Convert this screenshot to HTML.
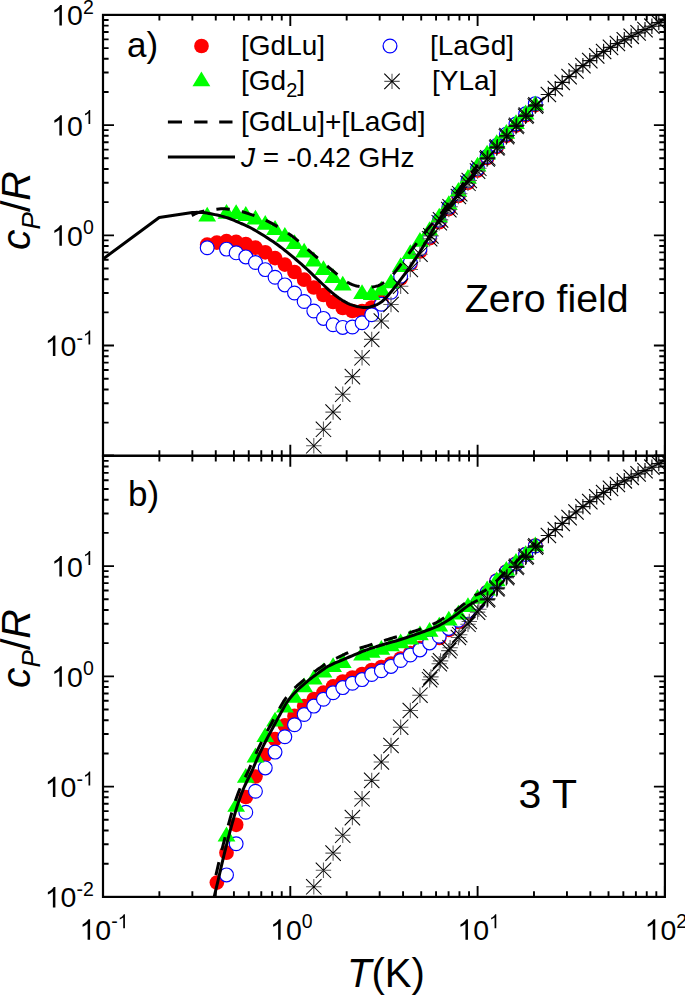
<!DOCTYPE html><html><head><meta charset="utf-8"><style>html,body{margin:0;padding:0;background:#fff;}svg{display:block}</style></head><body>
<svg width="685" height="995" viewBox="0 0 685 995" font-family='"Liberation Sans", sans-serif' fill="#000">
<rect width="685" height="995" fill="#fff"/>
<defs><clipPath id="ca"><rect x="103.0" y="14.9" width="561.9" height="440.9"/></clipPath><clipPath id="cb"><rect x="103.0" y="455.8" width="561.9" height="441.1"/></clipPath></defs>
<g clip-path="url(#ca)">
<g fill="#ff0000"><circle cx="207.2" cy="244.7" r="7.35"/><circle cx="216.85" cy="242.6" r="7.35"/><circle cx="226.5" cy="241.2" r="7.35"/><circle cx="236.15" cy="241.9" r="7.35"/><circle cx="245.8" cy="244" r="7.35"/><circle cx="255.45" cy="247.7" r="7.35"/><circle cx="265.25" cy="252.3" r="7.35"/><circle cx="275.05" cy="258.1" r="7.35"/><circle cx="284.85" cy="264.6" r="7.35"/><circle cx="294.5" cy="272" r="7.35"/><circle cx="304.15" cy="279.7" r="7.35"/><circle cx="313.8" cy="287.5" r="7.35"/><circle cx="323.45" cy="295" r="7.35"/><circle cx="333.1" cy="302" r="7.35"/><circle cx="342.75" cy="308" r="7.35"/><circle cx="352.4" cy="311" r="7.35"/><circle cx="362.05" cy="311" r="7.35"/><circle cx="371.7" cy="307.5" r="7.35"/><circle cx="381.35" cy="301.5" r="7.35"/><circle cx="391" cy="292" r="7.35"/><circle cx="400.65" cy="278.5" r="7.35"/><circle cx="410.3" cy="264.5" r="7.35"/><circle cx="419.95" cy="251.5" r="7.35"/><circle cx="429.6" cy="238.2" r="7.35"/><circle cx="439.25" cy="222.2" r="7.35"/><circle cx="448.82" cy="209.1" r="7.35"/><circle cx="458.4" cy="196" r="7.35"/><circle cx="467.98" cy="182.8" r="7.35"/><circle cx="477.55" cy="170.6" r="7.35"/><circle cx="487.12" cy="158" r="7.35"/><circle cx="496.7" cy="147" r="7.35"/><circle cx="506.35" cy="135.7" r="7.35"/><circle cx="516" cy="125.5" r="7.35"/><circle cx="525.65" cy="115.3" r="7.35"/><circle cx="535.3" cy="105.1" r="7.35"/></g>
<g fill="#fff" stroke="#0000ff" stroke-width="1.15"><circle cx="207.2" cy="247.7" r="6.9"/><circle cx="226.5" cy="249.1" r="6.9"/><circle cx="236.15" cy="252.8" r="6.9"/><circle cx="245.8" cy="256.9" r="6.9"/><circle cx="255.45" cy="262.5" r="6.9"/><circle cx="265.25" cy="269.6" r="6.9"/><circle cx="275.05" cy="277.2" r="6.9"/><circle cx="284.85" cy="284.9" r="6.9"/><circle cx="294.5" cy="293" r="6.9"/><circle cx="304.15" cy="301.5" r="6.9"/><circle cx="313.8" cy="311" r="6.9"/><circle cx="323.45" cy="318.4" r="6.9"/><circle cx="333.1" cy="324.7" r="6.9"/><circle cx="342.75" cy="327.4" r="6.9"/><circle cx="352.4" cy="327" r="6.9"/><circle cx="362.05" cy="322.7" r="6.9"/><circle cx="371.7" cy="314.7" r="6.9"/><circle cx="381.35" cy="304.2" r="6.9"/><circle cx="391" cy="292.3" r="6.9"/><circle cx="400.65" cy="276.3" r="6.9"/><circle cx="410.3" cy="262.5" r="6.9"/><circle cx="419.95" cy="249" r="6.9"/><circle cx="429.6" cy="236.2" r="6.9"/><circle cx="439.25" cy="220.2" r="6.9"/><circle cx="448.82" cy="207.1" r="6.9"/><circle cx="458.4" cy="194" r="6.9"/><circle cx="467.98" cy="180.8" r="6.9"/><circle cx="477.55" cy="168.6" r="6.9"/><circle cx="487.12" cy="156.5" r="6.9"/><circle cx="496.7" cy="145.5" r="6.9"/><circle cx="506.35" cy="134.2" r="6.9"/><circle cx="516" cy="124" r="6.9"/><circle cx="525.65" cy="113.8" r="6.9"/><circle cx="535.3" cy="103.6" r="6.9"/></g>
<path fill="#00ff00" d="M207.2 206.8L216.1 221.6L198.3 221.6ZM226.5 204L235.4 218.8L217.6 218.8ZM236.15 204.3L245.05 219.1L227.25 219.1ZM245.8 206.1L254.7 220.9L236.9 220.9ZM255.45 209.8L264.35 224.6L246.55 224.6ZM265.25 214.9L274.15 229.7L256.35 229.7ZM275.05 220.1L283.95 234.9L266.15 234.9ZM284.85 226.9L293.75 241.7L275.95 241.7ZM294.5 234.2L303.4 249L285.6 249ZM304.15 242.8L313.05 257.6L295.25 257.6ZM313.8 251.6L322.7 266.4L304.9 266.4ZM323.45 260.3L332.35 275.1L314.55 275.1ZM333.1 268.2L342 283L324.2 283ZM342.75 275.8L351.65 290.6L333.85 290.6ZM362.05 284.3L370.95 299.1L353.15 299.1ZM371.7 285.1L380.6 299.9L362.8 299.9ZM381.35 280.8L390.25 295.6L372.45 295.6ZM391 273.4L399.9 288.2L382.1 288.2ZM400.65 257.3L409.55 272.1L391.75 272.1ZM410.3 244.3L419.2 259.1L401.4 259.1ZM419.95 232L428.85 246.8L411.05 246.8ZM429.6 221.3L438.5 236.1L420.7 236.1ZM439.25 207.8L448.15 222.6L430.35 222.6ZM448.82 195.2L457.72 210L439.93 210ZM458.4 182.1L467.3 196.9L449.5 196.9ZM467.98 168.9L476.88 183.7L459.08 183.7ZM477.55 156.7L486.45 171.5L468.65 171.5ZM487.12 144.8L496.02 159.6L478.23 159.6ZM496.7 134.3L505.6 149.1L487.8 149.1ZM506.35 124L515.25 138.8L497.45 138.8ZM516 114.3L524.9 129.1L507.1 129.1ZM525.65 104.6L534.55 119.4L516.75 119.4ZM535.3 95.4L544.2 110.2L526.4 110.2Z"/>
<path fill="none" stroke="#606060" stroke-width="1.1" d="M306.1 445.8H321.5M313.8 438.1V453.5M315.75 429.3H331.15M323.45 421.6V437M325.4 412.1H340.8M333.1 404.4V419.8M335.05 394.3H350.45M342.75 386.6V402M344.7 376.6H360.1M352.4 368.9V384.3M354.35 357.8H369.75M362.05 350.1V365.5M364 339.4H379.4M371.7 331.7V347.1M373.65 321H389.05M381.35 313.3V328.7M383.3 304.5H398.7M391 296.8V312.2M392.95 286.2H408.35M400.65 278.5V293.9M402.6 269.5H418M410.3 261.8V277.2M412.25 254.2H427.65M419.95 246.5V261.9M421.9 238.7H437.3M429.6 231V246.4M431.55 222.7H446.95M439.25 215V230.4M441.12 209.6H456.52M448.82 201.9V217.3M450.7 196.5H466.1M458.4 188.8V204.2M460.28 183.3H475.68M467.98 175.6V191M469.85 171.1H485.25M477.55 163.4V178.8M423.2 235.9H438.6M430.9 228.2V243.6M432.85 219.9H448.25M440.55 212.2V227.6M442.43 206.8H457.82M450.12 199.1V214.5M452 193.7H467.4M459.7 186V201.4M461.58 180.5H476.98M469.28 172.8V188.2M471.15 168.3H486.55M478.85 160.6V176"/>
<path fill="none" stroke="#111" stroke-width="1.15" d="M479.43 159H494.82M487.12 151.3V166.7M489 148H504.4M496.7 140.3V155.7M498.65 136.7H514.05M506.35 129V144.4M508.3 126.5H523.7M516 118.8V134.2M517.95 116.3H533.35M525.65 108.6V124M527.6 106.1H543M535.3 98.4V113.8M540.7 94.5H556.1M548.4 86.8V102.2M547.6 88.6H563M555.3 80.9V96.3M554.5 82.4H569.9M562.2 74.7V90.1M561.4 76.6H576.8M569.1 68.9V84.3M568.3 71H583.7M576 63.3V78.7M575.2 65.6H590.6M582.9 57.9V73.3M582.1 60.6H597.5M589.8 52.9V68.3M589 55.9H604.4M596.7 48.2V63.6M595.9 51.5H611.3M603.6 43.8V59.2M602.8 47.4H618.2M610.5 39.7V55.1M609.7 43.5H625.1M617.4 35.8V51.2M616.6 39.8H632M624.3 32.1V47.5M623.5 36.3H638.9M631.2 28.6V44M630.4 32.9H645.8M638.1 25.2V40.6M637.3 29.6H652.7M645 21.9V37.3M644.2 26.2H659.6M651.9 18.5V33.9M651.1 22.6H666.5M658.8 14.9V30.3M658 19H673.4M665.7 11.3V26.7M480.12 157.8H495.52M487.82 150.1V165.5M489.7 146.8H505.1M497.4 139.1V154.5M499.35 135.5H514.75M507.05 127.8V143.2M509 125.3H524.4M516.7 117.6V133M518.65 115.1H534.05M526.35 107.4V122.8M528.3 104.9H543.7M536 97.2V112.6"/>
<path fill="none" stroke="#000" stroke-width="1.05" d="M306.1 438.1L321.5 453.5M306.1 453.5L321.5 438.1M315.75 421.6L331.15 437M315.75 437L331.15 421.6M325.4 404.4L340.8 419.8M325.4 419.8L340.8 404.4M335.05 386.6L350.45 402M335.05 402L350.45 386.6M344.7 368.9L360.1 384.3M344.7 384.3L360.1 368.9M354.35 350.1L369.75 365.5M354.35 365.5L369.75 350.1M364 331.7L379.4 347.1M364 347.1L379.4 331.7M373.65 313.3L389.05 328.7M373.65 328.7L389.05 313.3M383.3 296.8L398.7 312.2M383.3 312.2L398.7 296.8M392.95 278.5L408.35 293.9M392.95 293.9L408.35 278.5M402.6 261.8L418 277.2M402.6 277.2L418 261.8M412.25 246.5L427.65 261.9M412.25 261.9L427.65 246.5M421.9 231L437.3 246.4M421.9 246.4L437.3 231M431.55 215L446.95 230.4M431.55 230.4L446.95 215M441.12 201.9L456.52 217.3M441.12 217.3L456.52 201.9M450.7 188.8L466.1 204.2M450.7 204.2L466.1 188.8M460.28 175.6L475.68 191M460.28 191L475.68 175.6M469.85 163.4L485.25 178.8M469.85 178.8L485.25 163.4M479.43 151.3L494.82 166.7M479.43 166.7L494.82 151.3M489 140.3L504.4 155.7M489 155.7L504.4 140.3M498.65 129L514.05 144.4M498.65 144.4L514.05 129M508.3 118.8L523.7 134.2M508.3 134.2L523.7 118.8M517.95 108.6L533.35 124M517.95 124L533.35 108.6M527.6 98.4L543 113.8M527.6 113.8L543 98.4M423.2 228.2L438.6 243.6M423.2 243.6L438.6 228.2M432.85 212.2L448.25 227.6M432.85 227.6L448.25 212.2M442.43 199.1L457.82 214.5M442.43 214.5L457.82 199.1M452 186L467.4 201.4M452 201.4L467.4 186M461.58 172.8L476.98 188.2M461.58 188.2L476.98 172.8M471.15 160.6L486.55 176M471.15 176L486.55 160.6M480.12 150.1L495.52 165.5M480.12 165.5L495.52 150.1M489.7 139.1L505.1 154.5M489.7 154.5L505.1 139.1M499.35 127.8L514.75 143.2M499.35 143.2L514.75 127.8M509 117.6L524.4 133M509 133L524.4 117.6M518.65 107.4L534.05 122.8M518.65 122.8L534.05 107.4M528.3 97.2L543.7 112.6M528.3 112.6L543.7 97.2"/>
<path fill="none" stroke="#000" stroke-width="1.15" d="M540.7 86.8L556.1 102.2M547.6 80.9L563 96.3M554.5 74.7L569.9 90.1M561.4 68.9L576.8 84.3M568.3 63.3L583.7 78.7M575.2 57.9L590.6 73.3M582.1 52.9L597.5 68.3M589 48.2L604.4 63.6M595.9 43.8L611.3 59.2M602.8 39.7L618.2 55.1M609.7 35.8L625.1 51.2M616.6 32.1L632 47.5M623.5 28.6L638.9 44M630.4 25.2L645.8 40.6M637.3 21.9L652.7 37.3M644.2 18.5L659.6 33.9M651.1 14.9L666.5 30.3M658 11.3L673.4 26.7"/>
<path fill="none" stroke="#000" stroke-opacity="0.55" stroke-width="1.15" d="M540.7 102.2L556.1 86.8M547.6 96.3L563 80.9M554.5 90.1L569.9 74.7M561.4 84.3L576.8 68.9M568.3 78.7L583.7 63.3M575.2 73.3L590.6 57.9M582.1 68.3L597.5 52.9M589 63.6L604.4 48.2M595.9 59.2L611.3 43.8M602.8 55.1L618.2 39.7M609.7 51.2L625.1 35.8M616.6 47.5L632 32.1M623.5 44L638.9 28.6M630.4 40.6L645.8 25.2M637.3 37.3L652.7 21.9M644.2 33.9L659.6 18.5M651.1 30.3L666.5 14.9M658 26.7L673.4 11.3"/>
<polyline fill="none" stroke="#000" stroke-width="3" stroke-dasharray="13.4 12.2" stroke-dashoffset="0" stroke-linejoin="round" points="191.8,215.6 192.59,215.2 193.61,214.64 194.85,213.97 196.33,213.27 198.04,212.6 200,212 202.36,211.45 205.15,210.9 208.18,210.38 211.25,209.9 214.19,209.5 216.8,209.2 219,209 220.93,208.87 222.73,208.82 224.51,208.85 226.43,208.98 228.6,209.2 231,209.5 233.5,209.86 236.13,210.31 238.91,210.88 241.86,211.6 245,212.5 248.39,213.58 252.01,214.8 255.81,216.18 259.71,217.71 263.63,219.38 267.5,221.2 271.39,223.19 275.37,225.37 279.37,227.69 283.33,230.12 287.2,232.64 290.9,235.2 294.42,237.86 297.81,240.66 301.09,243.54 304.31,246.44 307.51,249.31 310.7,252.1 313.89,254.81 317.04,257.5 320.16,260.16 323.25,262.78 326.33,265.36 329.4,267.9 332.51,270.5 335.66,273.17 338.79,275.81 341.85,278.29 344.77,280.49 347.5,282.3 349.98,283.66 352.27,284.67 354.41,285.4 356.49,285.93 358.56,286.34 360.7,286.7 362.94,286.99 365.23,287.15 367.51,287.19 369.74,287.11 371.86,286.95 373.8,286.7 375.53,286.39 377.07,286.02 378.49,285.55 379.88,284.96 381.29,284.22 382.8,283.3 384.43,282.16 386.14,280.81 387.87,279.31 389.59,277.71 391.24,276.09 392.8,274.5 394.24,272.92 395.59,271.31 396.88,269.68 398.14,268.01 399.41,266.31 400.7,264.6 401.98,262.89 403.22,261.2 404.46,259.48 405.74,257.69 407.11,255.81 408.6,253.8 410.26,251.59 412.06,249.21 413.94,246.74 415.84,244.24 417.72,241.8 419.5,239.5 421.18,237.34 422.81,235.25 424.41,233.22 425.99,231.24 427.58,229.27 429.2,227.3 430.85,225.36 432.52,223.46 434.2,221.57 435.88,219.69 437.55,217.77 439.2,215.8 440.84,213.77 442.46,211.7 444.07,209.6 445.69,207.48 447.29,205.34 448.9,203.2 450.5,201.05 452.1,198.87 453.7,196.68 455.3,194.49 456.9,192.29 458.5,190.1 460.11,187.9 461.73,185.69 463.35,183.48 464.97,181.29 466.59,179.12 468.2,177 469.92,174.8 471.76,172.47 473.61,170.18 475.31,168.07 476.76,166.29 477.8,165"/>
<polyline fill="none" stroke="#000" stroke-width="3" stroke-linejoin="round" points="103,259 159.2,217.5 192.3,212.4 193.45,212.4 195.03,212.39 196.9,212.37 198.94,212.39 201.02,212.46 203,212.6 204.91,212.81 206.87,213.08 208.86,213.4 210.88,213.76 212.93,214.16 215,214.6 217.12,215.07 219.3,215.57 221.5,216.11 223.7,216.7 225.88,217.32 228,218 230.08,218.75 232.15,219.57 234.19,220.43 236.19,221.31 238.13,222.18 240,223 241.76,223.75 243.41,224.44 245,225.12 246.59,225.83 248.24,226.61 250,227.5 251.87,228.5 253.81,229.59 255.81,230.75 257.85,231.96 259.92,233.22 262,234.5 264.14,235.84 266.37,237.26 268.62,238.72 270.85,240.19 273,241.62 275,243 276.83,244.29 278.52,245.52 280.12,246.72 281.7,247.93 283.31,249.17 285,250.5 286.77,251.9 288.58,253.35 290.42,254.84 292.27,256.37 294.14,257.92 296,259.5 297.83,261.06 299.62,262.61 301.43,264.19 303.28,265.83 305.22,267.59 307.3,269.5 309.54,271.62 311.92,273.91 314.39,276.32 316.91,278.77 319.43,281.19 321.9,283.5 324.35,285.76 326.81,288.03 329.27,290.27 331.71,292.43 334.13,294.46 336.5,296.3 338.81,297.97 341.08,299.5 343.31,300.91 345.53,302.17 347.76,303.31 350,304.3 352.31,305.15 354.68,305.86 357.05,306.44 359.37,306.88 361.57,307.2 363.6,307.4 365.43,307.46 367.09,307.38 368.64,307.17 370.13,306.86 371.6,306.46 373.1,306 374.61,305.49 376.09,304.93 377.56,304.29 379.02,303.52 380.49,302.6 382,301.5 383.5,300.22 384.99,298.8 386.48,297.22 388.03,295.49 389.65,293.58 391.4,291.5 393.34,289.13 395.45,286.44 397.64,283.59 399.83,280.71 401.91,277.93 403.8,275.4 405.48,273.12 407.02,270.98 408.46,268.95 409.83,266.99 411.16,265.05 412.5,263.1 413.8,261.21 415.03,259.41 416.22,257.64 417.42,255.83 418.67,253.9 420,251.8 421.43,249.49 422.93,247.03 424.47,244.46 426.04,241.81 427.62,239.15 429.2,236.5 430.78,233.82 432.37,231.05 433.97,228.26 435.58,225.5 437.19,222.83 438.8,220.3 440.41,217.94 442.03,215.7 443.65,213.56 445.27,211.45 446.89,209.35 448.5,207.2 450.1,205.02 451.7,202.84 453.3,200.66 454.9,198.47 456.5,196.29 458.1,194.1 459.71,191.88 461.31,189.64 462.93,187.39 464.54,185.17 466.16,183 467.8,180.9 469.57,178.76 471.48,176.54 473.41,174.38 475.2,172.39 476.71,170.72 477.8,169.5"/>
<polyline fill="none" stroke="#000" stroke-width="1.4" stroke-linejoin="round" points="535.3,106.1 536.8,104.77 538.93,102.88 541.42,100.67 544.01,98.37 546.42,96.24 548.4,94.5 549.91,93.19 551.16,92.12 552.24,91.21 553.23,90.38 554.22,89.53 555.3,88.6 556.45,87.58 557.6,86.54 558.75,85.49 559.9,84.45 561.05,83.41 562.2,82.4 563.35,81.41 564.5,80.43 565.65,79.46 566.8,78.5 567.95,77.55 569.1,76.6 570.25,75.65 571.4,74.71 572.55,73.78 573.7,72.84 574.85,71.92 576,71 577.15,70.08 578.3,69.17 579.45,68.26 580.6,67.36 581.75,66.47 582.9,65.6 584.05,64.74 585.2,63.89 586.35,63.06 587.5,62.23 588.65,61.41 589.8,60.6 590.95,59.8 592.1,59 593.25,58.21 594.4,57.43 595.55,56.66 596.7,55.9 597.85,55.15 599,54.4 600.15,53.66 601.3,52.93 602.45,52.21 603.6,51.5 604.75,50.8 605.9,50.1 607.05,49.42 608.2,48.74 609.35,48.07 610.5,47.4 611.65,46.74 612.8,46.08 613.95,45.42 615.1,44.78 616.25,44.14 617.4,43.5 618.55,42.87 619.7,42.24 620.85,41.62 622,41.01 623.15,40.4 624.3,39.8 625.45,39.2 626.6,38.61 627.75,38.03 628.9,37.45 630.05,36.88 631.2,36.3 632.35,35.73 633.5,35.16 634.65,34.59 635.8,34.02 636.95,33.46 638.1,32.9 639.25,32.35 640.4,31.8 641.55,31.25 642.7,30.7 643.85,30.15 645,29.6 646.15,29.04 647.3,28.48 648.45,27.92 649.6,27.35 650.75,26.78 651.9,26.2 653.05,25.61 654.2,25.01 655.35,24.41 656.5,23.81 657.65,23.2 658.8,22.6 660.03,21.96 661.36,21.27 662.68,20.58 663.91,19.93 664.95,19.39 665.7,19"/>
</g>
<g clip-path="url(#cb)">
<g fill="#ff0000"><circle cx="216.85" cy="882.6" r="7.35"/><circle cx="226.5" cy="852.7" r="7.35"/><circle cx="236.15" cy="824.8" r="7.35"/><circle cx="245.8" cy="797" r="7.35"/><circle cx="255.45" cy="776.5" r="7.35"/><circle cx="265.25" cy="755" r="7.35"/><circle cx="275.05" cy="739" r="7.35"/><circle cx="284.85" cy="725.3" r="7.35"/><circle cx="294.5" cy="715.9" r="7.35"/><circle cx="304.15" cy="706.1" r="7.35"/><circle cx="313.8" cy="699.1" r="7.35"/><circle cx="323.45" cy="692.7" r="7.35"/><circle cx="333.1" cy="686.4" r="7.35"/><circle cx="342.75" cy="681.5" r="7.35"/><circle cx="352.4" cy="677.5" r="7.35"/><circle cx="362.05" cy="674" r="7.35"/><circle cx="371.7" cy="670" r="7.35"/><circle cx="381.35" cy="667" r="7.35"/><circle cx="391" cy="663.5" r="7.35"/><circle cx="400.65" cy="658.5" r="7.35"/><circle cx="410.3" cy="653" r="7.35"/><circle cx="419.95" cy="648" r="7.35"/><circle cx="429.6" cy="641.5" r="7.35"/><circle cx="439.25" cy="638" r="7.35"/><circle cx="448.82" cy="630" r="7.35"/><circle cx="458.4" cy="622" r="7.35"/><circle cx="467.98" cy="612.5" r="7.35"/><circle cx="477.55" cy="603" r="7.35"/><circle cx="487.12" cy="592" r="7.35"/><circle cx="496.7" cy="580.5" r="7.35"/><circle cx="506.35" cy="571.5" r="7.35"/><circle cx="516" cy="563.5" r="7.35"/><circle cx="525.65" cy="554" r="7.35"/><circle cx="535.3" cy="545.5" r="7.35"/></g>
<g fill="#fff" stroke="#0000ff" stroke-width="1.15"><circle cx="226.5" cy="874.9" r="6.9"/><circle cx="236.15" cy="843.8" r="6.9"/><circle cx="245.8" cy="812.3" r="6.9"/><circle cx="255.45" cy="791.3" r="6.9"/><circle cx="265.25" cy="767.9" r="6.9"/><circle cx="275.05" cy="752.1" r="6.9"/><circle cx="284.85" cy="736.7" r="6.9"/><circle cx="294.5" cy="724.8" r="6.9"/><circle cx="304.15" cy="714.5" r="6.9"/><circle cx="313.8" cy="706.1" r="6.9"/><circle cx="323.45" cy="699.2" r="6.9"/><circle cx="333.1" cy="692.7" r="6.9"/><circle cx="342.75" cy="687.6" r="6.9"/><circle cx="352.4" cy="683.2" r="6.9"/><circle cx="362.05" cy="679.6" r="6.9"/><circle cx="371.7" cy="674.5" r="6.9"/><circle cx="381.35" cy="670.8" r="6.9"/><circle cx="391" cy="666.4" r="6.9"/><circle cx="400.65" cy="660.5" r="6.9"/><circle cx="410.3" cy="655" r="6.9"/><circle cx="419.95" cy="649.9" r="6.9"/><circle cx="429.6" cy="642.9" r="6.9"/><circle cx="439.25" cy="636.3" r="6.9"/><circle cx="448.82" cy="628.4" r="6.9"/><circle cx="458.4" cy="620.3" r="6.9"/><circle cx="467.98" cy="611" r="6.9"/><circle cx="477.55" cy="603" r="6.9"/><circle cx="487.12" cy="592.5" r="6.9"/><circle cx="496.7" cy="581" r="6.9"/><circle cx="506.35" cy="572" r="6.9"/><circle cx="516" cy="564" r="6.9"/><circle cx="525.65" cy="554.5" r="6.9"/><circle cx="535.3" cy="546" r="6.9"/></g>
<path fill="#00ff00" d="M226.5 826.6L235.4 841.4L217.6 841.4ZM236.15 796.9L245.05 811.7L227.25 811.7ZM245.8 768L254.7 782.8L236.9 782.8ZM255.45 747.6L264.35 762.4L246.55 762.4ZM265.25 727.3L274.15 742.1L256.35 742.1ZM275.05 711.8L283.95 726.6L266.15 726.6ZM284.85 697.7L293.75 712.5L275.95 712.5ZM294.5 687.9L303.4 702.7L285.6 702.7ZM304.15 677.4L313.05 692.2L295.25 692.2ZM313.8 669.6L322.7 684.4L304.9 684.4ZM323.45 662.6L332.35 677.4L314.55 677.4ZM333.1 657.2L342 672L324.2 672ZM342.75 653.1L351.65 667.9L333.85 667.9ZM362.05 645.6L370.95 660.4L353.15 660.4ZM371.7 643L380.6 657.8L362.8 657.8ZM381.35 640L390.25 654.8L372.45 654.8ZM391 636.5L399.9 651.3L382.1 651.3ZM400.65 633.4L409.55 648.2L391.75 648.2ZM410.3 629.6L419.2 644.4L401.4 644.4ZM419.95 625.5L428.85 640.3L411.05 640.3ZM429.6 622L438.5 636.8L420.7 636.8ZM439.25 616.7L448.15 631.5L430.35 631.5ZM448.82 610.8L457.72 625.6L439.93 625.6ZM458.4 604.7L467.3 619.5L449.5 619.5ZM467.98 597.2L476.88 612L459.08 612ZM477.55 588.9L486.45 603.7L468.65 603.7ZM487.12 580.6L496.02 595.4L478.23 595.4ZM496.7 571.4L505.6 586.2L487.8 586.2ZM506.35 561L515.25 575.8L497.45 575.8ZM516 553.1L524.9 567.9L507.1 567.9ZM525.65 545.2L534.55 560L516.75 560ZM535.3 536.5L544.2 551.3L526.4 551.3Z"/>
<path fill="none" stroke="#606060" stroke-width="1.1" d="M306.1 886.8H321.5M313.8 879.1V894.5M315.75 870.3H331.15M323.45 862.6V878M325.4 853.1H340.8M333.1 845.4V860.8M335.05 835.3H350.45M342.75 827.6V843M344.7 817.6H360.1M352.4 809.9V825.3M354.35 798.8H369.75M362.05 791.1V806.5M364 780.4H379.4M371.7 772.7V788.1M373.65 762H389.05M381.35 754.3V769.7M383.3 745.5H398.7M391 737.8V753.2M392.95 727.2H408.35M400.65 719.5V734.9M402.6 710.5H418M410.3 702.8V718.2M412.25 695.2H427.65M419.95 687.5V702.9M421.9 679.7H437.3M429.6 672V687.4M431.55 663.7H446.95M439.25 656V671.4M441.12 650.6H456.52M448.82 642.9V658.3M450.7 637.5H466.1M458.4 629.8V645.2M460.28 624.3H475.68M467.98 616.6V632M469.85 612.1H485.25M477.55 604.4V619.8M423.2 676.9H438.6M430.9 669.2V684.6M432.85 660.9H448.25M440.55 653.2V668.6M442.43 647.8H457.82M450.12 640.1V655.5M452 634.7H467.4M459.7 627V642.4M461.58 621.5H476.98M469.28 613.8V629.2M471.15 609.3H486.55M478.85 601.6V617"/>
<path fill="none" stroke="#111" stroke-width="1.15" d="M479.43 600H494.82M487.12 592.3V607.7M489 589H504.4M496.7 581.3V596.7M498.65 577.7H514.05M506.35 570V585.4M508.3 567.5H523.7M516 559.8V575.2M517.95 557.3H533.35M525.65 549.6V565M527.6 547.1H543M535.3 539.4V554.8M540.7 535.5H556.1M548.4 527.8V543.2M547.6 529.6H563M555.3 521.9V537.3M554.5 523.4H569.9M562.2 515.7V531.1M561.4 517.6H576.8M569.1 509.9V525.3M568.3 512H583.7M576 504.3V519.7M575.2 506.6H590.6M582.9 498.9V514.3M582.1 501.6H597.5M589.8 493.9V509.3M589 496.9H604.4M596.7 489.2V504.6M595.9 492.5H611.3M603.6 484.8V500.2M602.8 488.4H618.2M610.5 480.7V496.1M609.7 484.5H625.1M617.4 476.8V492.2M616.6 480.8H632M624.3 473.1V488.5M623.5 477.3H638.9M631.2 469.6V485M630.4 473.9H645.8M638.1 466.2V481.6M637.3 470.6H652.7M645 462.9V478.3M644.2 467.2H659.6M651.9 459.5V474.9M651.1 463.6H666.5M658.8 455.9V471.3M658 460H673.4M665.7 452.3V467.7M480.12 598.8H495.52M487.82 591.1V606.5M489.7 587.8H505.1M497.4 580.1V595.5M499.35 576.5H514.75M507.05 568.8V584.2M509 566.3H524.4M516.7 558.6V574M518.65 556.1H534.05M526.35 548.4V563.8M528.3 545.9H543.7M536 538.2V553.6"/>
<path fill="none" stroke="#000" stroke-width="1.05" d="M306.1 879.1L321.5 894.5M306.1 894.5L321.5 879.1M315.75 862.6L331.15 878M315.75 878L331.15 862.6M325.4 845.4L340.8 860.8M325.4 860.8L340.8 845.4M335.05 827.6L350.45 843M335.05 843L350.45 827.6M344.7 809.9L360.1 825.3M344.7 825.3L360.1 809.9M354.35 791.1L369.75 806.5M354.35 806.5L369.75 791.1M364 772.7L379.4 788.1M364 788.1L379.4 772.7M373.65 754.3L389.05 769.7M373.65 769.7L389.05 754.3M383.3 737.8L398.7 753.2M383.3 753.2L398.7 737.8M392.95 719.5L408.35 734.9M392.95 734.9L408.35 719.5M402.6 702.8L418 718.2M402.6 718.2L418 702.8M412.25 687.5L427.65 702.9M412.25 702.9L427.65 687.5M421.9 672L437.3 687.4M421.9 687.4L437.3 672M431.55 656L446.95 671.4M431.55 671.4L446.95 656M441.12 642.9L456.52 658.3M441.12 658.3L456.52 642.9M450.7 629.8L466.1 645.2M450.7 645.2L466.1 629.8M460.28 616.6L475.68 632M460.28 632L475.68 616.6M469.85 604.4L485.25 619.8M469.85 619.8L485.25 604.4M479.43 592.3L494.82 607.7M479.43 607.7L494.82 592.3M489 581.3L504.4 596.7M489 596.7L504.4 581.3M498.65 570L514.05 585.4M498.65 585.4L514.05 570M508.3 559.8L523.7 575.2M508.3 575.2L523.7 559.8M517.95 549.6L533.35 565M517.95 565L533.35 549.6M527.6 539.4L543 554.8M527.6 554.8L543 539.4M423.2 669.2L438.6 684.6M423.2 684.6L438.6 669.2M432.85 653.2L448.25 668.6M432.85 668.6L448.25 653.2M442.43 640.1L457.82 655.5M442.43 655.5L457.82 640.1M452 627L467.4 642.4M452 642.4L467.4 627M461.58 613.8L476.98 629.2M461.58 629.2L476.98 613.8M471.15 601.6L486.55 617M471.15 617L486.55 601.6M480.12 591.1L495.52 606.5M480.12 606.5L495.52 591.1M489.7 580.1L505.1 595.5M489.7 595.5L505.1 580.1M499.35 568.8L514.75 584.2M499.35 584.2L514.75 568.8M509 558.6L524.4 574M509 574L524.4 558.6M518.65 548.4L534.05 563.8M518.65 563.8L534.05 548.4M528.3 538.2L543.7 553.6M528.3 553.6L543.7 538.2"/>
<path fill="none" stroke="#000" stroke-width="1.15" d="M540.7 527.8L556.1 543.2M547.6 521.9L563 537.3M554.5 515.7L569.9 531.1M561.4 509.9L576.8 525.3M568.3 504.3L583.7 519.7M575.2 498.9L590.6 514.3M582.1 493.9L597.5 509.3M589 489.2L604.4 504.6M595.9 484.8L611.3 500.2M602.8 480.7L618.2 496.1M609.7 476.8L625.1 492.2M616.6 473.1L632 488.5M623.5 469.6L638.9 485M630.4 466.2L645.8 481.6M637.3 462.9L652.7 478.3M644.2 459.5L659.6 474.9M651.1 455.9L666.5 471.3M658 452.3L673.4 467.7"/>
<path fill="none" stroke="#000" stroke-opacity="0.55" stroke-width="1.15" d="M540.7 543.2L556.1 527.8M547.6 537.3L563 521.9M554.5 531.1L569.9 515.7M561.4 525.3L576.8 509.9M568.3 519.7L583.7 504.3M575.2 514.3L590.6 498.9M582.1 509.3L597.5 493.9M589 504.6L604.4 489.2M595.9 500.2L611.3 484.8M602.8 496.1L618.2 480.7M609.7 492.2L625.1 476.8M616.6 488.5L632 473.1M623.5 485L638.9 469.6M630.4 481.6L645.8 466.2M637.3 478.3L652.7 462.9M644.2 474.9L659.6 459.5M651.1 471.3L666.5 455.9M658 467.7L673.4 452.3"/>
<polyline fill="none" stroke="#000" stroke-width="3" stroke-dasharray="13.4 12.2" stroke-dashoffset="15.05" stroke-linejoin="round" points="213.51,885.38 214.31,882.04 215.09,878.74 215.86,875.41 216.67,871.92 217.49,868.32 218.33,864.7 219.17,861.11 219.99,857.63 220.81,854.24 221.63,850.89 222.45,847.57 223.27,844.3 224.09,841.06 224.91,837.87 225.72,834.73 226.54,831.63 227.36,828.57 228.17,825.55 229,822.56 229.82,819.6 230.65,816.68 231.46,813.81 232.27,810.96 233.11,808.14 233.97,805.34 234.87,802.56 235.8,799.79 236.76,797.06 237.74,794.35 238.76,791.65 239.83,788.94 240.96,786.21 242.19,783.45 243.51,780.67 244.88,777.89 246.26,775.12 247.61,772.36 248.9,769.62 250.11,766.92 251.27,764.25 252.4,761.59 253.54,758.93 254.7,756.28 255.91,753.61 257.19,750.89 258.52,748.13 259.89,745.36 261.25,742.64 262.58,740 263.86,737.49 265.1,735.12 266.31,732.86 267.49,730.68 268.65,728.56 269.78,726.49 270.89,724.43 271.96,722.44 272.98,720.54 273.97,718.68 274.97,716.81 276.01,714.9 277.12,712.89 278.3,710.75 279.52,708.5 280.78,706.2 282.08,703.91 283.42,701.69 284.8,699.61 286.24,697.65 287.74,695.76 289.28,693.94 290.84,692.19 292.39,690.52 293.92,688.91 295.42,687.4 296.91,685.98 298.4,684.63 299.89,683.33 301.37,682.05 302.86,680.79 304.35,679.53 305.85,678.31 307.34,677.11 308.84,675.94 310.33,674.79 311.81,673.67 313.31,672.55 314.81,671.45 316.32,670.38 317.8,669.33 319.25,668.33 320.65,667.37 321.91,666.5 323.04,665.73 324.13,664.99 325.29,664.24 326.62,663.44 328.22,662.52 330.18,661.45 332.42,660.27 334.84,659.02 337.31,657.77 339.7,656.58 341.9,655.5 343.89,654.54 345.75,653.65 347.54,652.81 349.31,652.02 351.11,651.25 353,650.5 354.98,649.78 357,649.09 359.05,648.44 361.13,647.8 363.21,647.16 365.3,646.5 367.4,645.83 369.53,645.16 371.66,644.49 373.8,643.82 375.91,643.16 378,642.5 380.05,641.85 382.09,641.2 384.1,640.56 386.1,639.93 388.1,639.31 390.1,638.7 392.1,638.11 394.1,637.55 396.09,637 398.08,636.45 400.05,635.89 402,635.3 403.93,634.69 405.83,634.07 407.72,633.44 409.6,632.8 411.49,632.15 413.4,631.5 415.33,630.85 417.27,630.21 419.22,629.56 421.17,628.89 423.1,628.21 425,627.5 426.87,626.78 428.71,626.06 430.54,625.33 432.36,624.55 434.17,623.71 436,622.8 437.84,621.78 439.7,620.68 441.56,619.51 443.41,618.32 445.22,617.14 447,616 448.72,614.92 450.41,613.87 452.06,612.83 453.7,611.77 455.34,610.67 457,609.5 458.7,608.22 460.44,606.85 462.19,605.44 463.89,604.04 465.51,602.71 467,601.5 468.35,600.41 469.59,599.38 470.75,598.43 471.85,597.54 472.93,596.73 474,596 475.03,595.4 476,594.94 476.94,594.55 477.89,594.17 478.9,593.75 480,593.2 481.21,592.56 482.48,591.9 483.81,591.18 485.19,590.38 486.59,589.5 488,588.5 489.44,587.38 490.91,586.13 492.41,584.8 493.93,583.4 495.46,581.96 497,580.5 498.55,579 500.13,577.43 501.72,575.81 503.31,574.19 504.91,572.57 506.5,571 508.08,569.48 509.67,567.98 511.25,566.5 512.83,565.02 514.42,563.52 516,562 517.58,560.45 519.17,558.87 520.75,557.28 522.33,555.69 523.92,554.09 525.5,552.5 527.19,550.81 529.02,548.98 530.84,547.16 532.54,545.46 533.97,544.03 535,543"/>
<polyline fill="none" stroke="#000" stroke-width="3" stroke-linejoin="round" points="213.2,900.8 213.26,900.56 213.31,900.36 213.39,900.05 213.52,899.5 213.75,898.56 214.1,897.1 214.6,895.01 215.23,892.39 215.95,889.39 216.73,886.14 217.52,882.8 218.3,879.5 219.08,876.17 219.88,872.67 220.71,869.08 221.54,865.46 222.38,861.88 223.2,858.4 224.02,855.02 224.83,851.67 225.65,848.37 226.47,845.1 227.28,841.88 228.1,838.7 228.92,835.56 229.73,832.47 230.54,829.43 231.36,826.41 232.18,823.44 233,820.5 233.82,817.6 234.62,814.74 235.43,811.92 236.26,809.13 237.11,806.36 238,803.6 238.92,800.88 239.86,798.19 240.82,795.53 241.82,792.87 242.88,790.2 244,787.5 245.22,784.77 246.53,782.01 247.89,779.24 249.26,776.48 250.61,773.73 251.9,771 253.11,768.3 254.27,765.63 255.4,762.97 256.53,760.31 257.69,757.66 258.9,755 260.18,752.3 261.5,749.56 262.85,746.81 264.2,744.11 265.52,741.49 266.8,739 268.03,736.64 269.23,734.39 270.41,732.22 271.56,730.11 272.69,728.05 273.8,726 274.86,724.01 275.88,722.11 276.87,720.25 277.87,718.39 278.9,716.49 280,714.5 281.16,712.39 282.36,710.18 283.59,707.93 284.86,705.69 286.16,703.53 287.5,701.5 288.89,699.6 290.34,697.78 291.83,696.03 293.33,694.36 294.82,692.75 296.3,691.2 297.75,689.73 299.2,688.36 300.65,687.04 302.1,685.78 303.55,684.54 305,683.3 306.46,682.07 307.93,680.87 309.4,679.69 310.87,678.54 312.34,677.41 313.8,676.3 315.27,675.2 316.75,674.12 318.23,673.06 319.69,672.03 321.12,671.04 322.5,670.1 323.68,669.26 324.66,668.53 325.59,667.83 326.68,667.11 328.09,666.29 330,665.3 332.56,664.1 335.66,662.73 339.08,661.26 342.62,659.76 346.06,658.32 349.2,657 352.04,655.8 354.75,654.64 357.36,653.54 359.92,652.49 362.45,651.48 365,650.5 367.55,649.57 370.06,648.7 372.55,647.86 375.03,647.06 377.51,646.28 380,645.5 382.51,644.75 385.03,644.02 387.55,643.32 390.06,642.62 392.55,641.92 395,641.2 397.41,640.47 399.77,639.74 402.11,639.01 404.45,638.26 406.81,637.49 409.2,636.7 411.64,635.88 414.1,635.04 416.59,634.18 419.07,633.3 421.55,632.4 424,631.5 426.42,630.61 428.82,629.75 431.21,628.87 433.6,627.95 435.99,626.94 438.4,625.8 440.82,624.54 443.25,623.17 445.69,621.72 448.13,620.2 450.56,618.62 453,617 455.48,615.25 458.03,613.34 460.57,611.37 463.06,609.44 465.42,607.65 467.6,606.1 469.67,604.76 471.7,603.54 473.61,602.47 475.32,601.54 476.74,600.78 477.8,600.2"/>
<polyline fill="none" stroke="#000" stroke-width="1.4" stroke-linejoin="round" points="535.3,547.1 536.8,545.77 538.93,543.88 541.42,541.67 544.01,539.37 546.42,537.24 548.4,535.5 549.91,534.19 551.16,533.12 552.24,532.21 553.23,531.38 554.22,530.53 555.3,529.6 556.45,528.58 557.6,527.54 558.75,526.49 559.9,525.45 561.05,524.41 562.2,523.4 563.35,522.41 564.5,521.43 565.65,520.46 566.8,519.5 567.95,518.55 569.1,517.6 570.25,516.65 571.4,515.71 572.55,514.77 573.7,513.84 574.85,512.92 576,512 577.15,511.08 578.3,510.17 579.45,509.26 580.6,508.36 581.75,507.47 582.9,506.6 584.05,505.74 585.2,504.89 586.35,504.06 587.5,503.23 588.65,502.41 589.8,501.6 590.95,500.8 592.1,500 593.25,499.21 594.4,498.43 595.55,497.66 596.7,496.9 597.85,496.15 599,495.4 600.15,494.66 601.3,493.93 602.45,493.21 603.6,492.5 604.75,491.8 605.9,491.1 607.05,490.42 608.2,489.74 609.35,489.07 610.5,488.4 611.65,487.74 612.8,487.08 613.95,486.42 615.1,485.78 616.25,485.14 617.4,484.5 618.55,483.87 619.7,483.24 620.85,482.62 622,482.01 623.15,481.4 624.3,480.8 625.45,480.2 626.6,479.61 627.75,479.03 628.9,478.45 630.05,477.88 631.2,477.3 632.35,476.73 633.5,476.16 634.65,475.59 635.8,475.02 636.95,474.46 638.1,473.9 639.25,473.35 640.4,472.8 641.55,472.25 642.7,471.7 643.85,471.15 645,470.6 646.15,470.04 647.3,469.48 648.45,468.92 649.6,468.35 650.75,467.78 651.9,467.2 653.05,466.61 654.2,466.01 655.35,465.41 656.5,464.81 657.65,464.2 658.8,463.6 660.03,462.96 661.36,462.27 662.68,461.58 663.91,460.93 664.95,460.39 665.7,460"/>
</g>
<rect x="103.0" y="14.9" width="561.9" height="440.9" fill="none" stroke="#000" stroke-width="2.2"/>
<path d="M103 455.8v-11.0M103 14.9v11.0M159.38 455.8v-5.6M159.38 14.9v5.6M192.36 455.8v-5.6M192.36 14.9v5.6M215.77 455.8v-5.6M215.77 14.9v5.6M233.92 455.8v-5.6M233.92 14.9v5.6M248.75 455.8v-5.6M248.75 14.9v5.6M261.29 455.8v-5.6M261.29 14.9v5.6M272.15 455.8v-5.6M272.15 14.9v5.6M281.73 455.8v-5.6M281.73 14.9v5.6M290.3 455.8v-11.0M290.3 14.9v11.0M346.68 455.8v-5.6M346.68 14.9v5.6M379.66 455.8v-5.6M379.66 14.9v5.6M403.07 455.8v-5.6M403.07 14.9v5.6M421.22 455.8v-5.6M421.22 14.9v5.6M436.05 455.8v-5.6M436.05 14.9v5.6M448.59 455.8v-5.6M448.59 14.9v5.6M459.45 455.8v-5.6M459.45 14.9v5.6M469.03 455.8v-5.6M469.03 14.9v5.6M477.6 455.8v-11.0M477.6 14.9v11.0M533.98 455.8v-5.6M533.98 14.9v5.6M566.96 455.8v-5.6M566.96 14.9v5.6M590.37 455.8v-5.6M590.37 14.9v5.6M608.52 455.8v-5.6M608.52 14.9v5.6M623.35 455.8v-5.6M623.35 14.9v5.6M635.89 455.8v-5.6M635.89 14.9v5.6M646.75 455.8v-5.6M646.75 14.9v5.6M656.33 455.8v-5.6M656.33 14.9v5.6M664.9 455.8v-11.0M664.9 14.9v11.0M103 455.8h11.0M664.9 455.8h-11.0M103 422.62h5.6M664.9 422.62h-5.6M103 403.21h5.6M664.9 403.21h-5.6M103 389.44h5.6M664.9 389.44h-5.6M103 378.76h5.6M664.9 378.76h-5.6M103 370.03h5.6M664.9 370.03h-5.6M103 362.65h5.6M664.9 362.65h-5.6M103 356.26h5.6M664.9 356.26h-5.6M103 350.62h5.6M664.9 350.62h-5.6M103 345.57h11.0M664.9 345.57h-11.0M103 312.39h5.6M664.9 312.39h-5.6M103 292.98h5.6M664.9 292.98h-5.6M103 279.21h5.6M664.9 279.21h-5.6M103 268.53h5.6M664.9 268.53h-5.6M103 259.8h5.6M664.9 259.8h-5.6M103 252.42h5.6M664.9 252.42h-5.6M103 246.03h5.6M664.9 246.03h-5.6M103 240.39h5.6M664.9 240.39h-5.6M103 235.35h11.0M664.9 235.35h-11.0M103 202.17h5.6M664.9 202.17h-5.6M103 182.76h5.6M664.9 182.76h-5.6M103 168.99h5.6M664.9 168.99h-5.6M103 158.31h5.6M664.9 158.31h-5.6M103 149.58h5.6M664.9 149.58h-5.6M103 142.2h5.6M664.9 142.2h-5.6M103 135.81h5.6M664.9 135.81h-5.6M103 130.17h5.6M664.9 130.17h-5.6M103 125.13h11.0M664.9 125.13h-11.0M103 91.94h5.6M664.9 91.94h-5.6M103 72.53h5.6M664.9 72.53h-5.6M103 58.76h5.6M664.9 58.76h-5.6M103 48.08h5.6M664.9 48.08h-5.6M103 39.35h5.6M664.9 39.35h-5.6M103 31.97h5.6M664.9 31.97h-5.6M103 25.58h5.6M664.9 25.58h-5.6M103 19.94h5.6M664.9 19.94h-5.6M103 14.9h11.0M664.9 14.9h-11.0" stroke="#000" stroke-width="1.9" fill="none"/>
<path transform="translate(51.25 25.4) scale(0.01392 -0.01392)" d="M763 0L583 0L583 1147Q518 1085 412 1023Q306 961 222 930L222 1104Q373 1175 486 1276Q599 1377 646 1472L763 1472Z"/><text x="67.1" y="25.4" font-size="28.5">0</text><text x="82.96" y="13.9" font-size="19.5">2</text>
<path transform="translate(51.25 135.62) scale(0.01392 -0.01392)" d="M763 0L583 0L583 1147Q518 1085 412 1023Q306 961 222 930L222 1104Q373 1175 486 1276Q599 1377 646 1472L763 1472Z"/><text x="67.1" y="135.62" font-size="28.5">0</text><path transform="translate(82.96 124.12) scale(0.00952 -0.00952)" d="M763 0L583 0L583 1147Q518 1085 412 1023Q306 961 222 930L222 1104Q373 1175 486 1276Q599 1377 646 1472L763 1472Z"/>
<path transform="translate(51.25 245.85) scale(0.01392 -0.01392)" d="M763 0L583 0L583 1147Q518 1085 412 1023Q306 961 222 930L222 1104Q373 1175 486 1276Q599 1377 646 1472L763 1472Z"/><text x="67.1" y="245.85" font-size="28.5">0</text><text x="82.96" y="234.35" font-size="19.5">0</text>
<path transform="translate(44.76 356.07) scale(0.01392 -0.01392)" d="M763 0L583 0L583 1147Q518 1085 412 1023Q306 961 222 930L222 1104Q373 1175 486 1276Q599 1377 646 1472L763 1472Z"/><text x="60.61" y="356.07" font-size="28.5">0</text><text x="76.46" y="344.57" font-size="19.5">-</text><path transform="translate(82.96 344.57) scale(0.00952 -0.00952)" d="M763 0L583 0L583 1147Q518 1085 412 1023Q306 961 222 930L222 1104Q373 1175 486 1276Q599 1377 646 1472L763 1472Z"/>
<rect x="103.0" y="455.8" width="561.9" height="441.1" fill="none" stroke="#000" stroke-width="2.2"/>
<path d="M103 896.9v-11.0M103 455.8v11.0M159.38 896.9v-5.6M159.38 455.8v5.6M192.36 896.9v-5.6M192.36 455.8v5.6M215.77 896.9v-5.6M215.77 455.8v5.6M233.92 896.9v-5.6M233.92 455.8v5.6M248.75 896.9v-5.6M248.75 455.8v5.6M261.29 896.9v-5.6M261.29 455.8v5.6M272.15 896.9v-5.6M272.15 455.8v5.6M281.73 896.9v-5.6M281.73 455.8v5.6M290.3 896.9v-11.0M290.3 455.8v11.0M346.68 896.9v-5.6M346.68 455.8v5.6M379.66 896.9v-5.6M379.66 455.8v5.6M403.07 896.9v-5.6M403.07 455.8v5.6M421.22 896.9v-5.6M421.22 455.8v5.6M436.05 896.9v-5.6M436.05 455.8v5.6M448.59 896.9v-5.6M448.59 455.8v5.6M459.45 896.9v-5.6M459.45 455.8v5.6M469.03 896.9v-5.6M469.03 455.8v5.6M477.6 896.9v-11.0M477.6 455.8v11.0M533.98 896.9v-5.6M533.98 455.8v5.6M566.96 896.9v-5.6M566.96 455.8v5.6M590.37 896.9v-5.6M590.37 455.8v5.6M608.52 896.9v-5.6M608.52 455.8v5.6M623.35 896.9v-5.6M623.35 455.8v5.6M635.89 896.9v-5.6M635.89 455.8v5.6M646.75 896.9v-5.6M646.75 455.8v5.6M656.33 896.9v-5.6M656.33 455.8v5.6M664.9 896.9v-11.0M664.9 455.8v11.0M103 896.9h11.0M664.9 896.9h-11.0M103 863.7h5.6M664.9 863.7h-5.6M103 844.29h5.6M664.9 844.29h-5.6M103 830.51h5.6M664.9 830.51h-5.6M103 819.82h5.6M664.9 819.82h-5.6M103 811.09h5.6M664.9 811.09h-5.6M103 803.71h5.6M664.9 803.71h-5.6M103 797.31h5.6M664.9 797.31h-5.6M103 791.67h5.6M664.9 791.67h-5.6M103 786.62h11.0M664.9 786.62h-11.0M103 753.43h5.6M664.9 753.43h-5.6M103 734.01h5.6M664.9 734.01h-5.6M103 720.23h5.6M664.9 720.23h-5.6M103 709.55h5.6M664.9 709.55h-5.6M103 700.81h5.6M664.9 700.81h-5.6M103 693.43h5.6M664.9 693.43h-5.6M103 687.04h5.6M664.9 687.04h-5.6M103 681.4h5.6M664.9 681.4h-5.6M103 676.35h11.0M664.9 676.35h-11.0M103 643.15h5.6M664.9 643.15h-5.6M103 623.74h5.6M664.9 623.74h-5.6M103 609.96h5.6M664.9 609.96h-5.6M103 599.27h5.6M664.9 599.27h-5.6M103 590.54h5.6M664.9 590.54h-5.6M103 583.16h5.6M664.9 583.16h-5.6M103 576.76h5.6M664.9 576.76h-5.6M103 571.12h5.6M664.9 571.12h-5.6M103 566.08h11.0M664.9 566.08h-11.0M103 532.88h5.6M664.9 532.88h-5.6M103 513.46h5.6M664.9 513.46h-5.6M103 499.68h5.6M664.9 499.68h-5.6M103 489h5.6M664.9 489h-5.6M103 480.26h5.6M664.9 480.26h-5.6M103 472.88h5.6M664.9 472.88h-5.6M103 466.49h5.6M664.9 466.49h-5.6M103 460.85h5.6M664.9 460.85h-5.6M103 455.8h11.0M664.9 455.8h-11.0" stroke="#000" stroke-width="1.9" fill="none"/>
<path transform="translate(51.25 576.58) scale(0.01392 -0.01392)" d="M763 0L583 0L583 1147Q518 1085 412 1023Q306 961 222 930L222 1104Q373 1175 486 1276Q599 1377 646 1472L763 1472Z"/><text x="67.1" y="576.58" font-size="28.5">0</text><path transform="translate(82.96 565.08) scale(0.00952 -0.00952)" d="M763 0L583 0L583 1147Q518 1085 412 1023Q306 961 222 930L222 1104Q373 1175 486 1276Q599 1377 646 1472L763 1472Z"/>
<path transform="translate(51.25 686.85) scale(0.01392 -0.01392)" d="M763 0L583 0L583 1147Q518 1085 412 1023Q306 961 222 930L222 1104Q373 1175 486 1276Q599 1377 646 1472L763 1472Z"/><text x="67.1" y="686.85" font-size="28.5">0</text><text x="82.96" y="675.35" font-size="19.5">0</text>
<path transform="translate(44.76 797.12) scale(0.01392 -0.01392)" d="M763 0L583 0L583 1147Q518 1085 412 1023Q306 961 222 930L222 1104Q373 1175 486 1276Q599 1377 646 1472L763 1472Z"/><text x="60.61" y="797.12" font-size="28.5">0</text><text x="76.46" y="785.62" font-size="19.5">-</text><path transform="translate(82.96 785.62) scale(0.00952 -0.00952)" d="M763 0L583 0L583 1147Q518 1085 412 1023Q306 961 222 930L222 1104Q373 1175 486 1276Q599 1377 646 1472L763 1472Z"/>
<path transform="translate(44.76 907.4) scale(0.01392 -0.01392)" d="M763 0L583 0L583 1147Q518 1085 412 1023Q306 961 222 930L222 1104Q373 1175 486 1276Q599 1377 646 1472L763 1472Z"/><text x="60.61" y="907.4" font-size="28.5">0</text><text x="76.46" y="895.9" font-size="19.5">-</text><text x="82.96" y="895.9" font-size="19.5">2</text>
<path transform="translate(79.48 939.8) scale(0.01392 -0.01392)" d="M763 0L583 0L583 1147Q518 1085 412 1023Q306 961 222 930L222 1104Q373 1175 486 1276Q599 1377 646 1472L763 1472Z"/><text x="95.33" y="939.8" font-size="28.5">0</text><text x="111.18" y="928.3" font-size="19.5">-</text><path transform="translate(117.67 928.3) scale(0.00952 -0.00952)" d="M763 0L583 0L583 1147Q518 1085 412 1023Q306 961 222 930L222 1104Q373 1175 486 1276Q599 1377 646 1472L763 1472Z"/>
<path transform="translate(270.03 939.8) scale(0.01392 -0.01392)" d="M763 0L583 0L583 1147Q518 1085 412 1023Q306 961 222 930L222 1104Q373 1175 486 1276Q599 1377 646 1472L763 1472Z"/><text x="285.88" y="939.8" font-size="28.5">0</text><text x="301.73" y="928.3" font-size="19.5">0</text>
<path transform="translate(457.33 939.8) scale(0.01392 -0.01392)" d="M763 0L583 0L583 1147Q518 1085 412 1023Q306 961 222 930L222 1104Q373 1175 486 1276Q599 1377 646 1472L763 1472Z"/><text x="473.18" y="939.8" font-size="28.5">0</text><path transform="translate(489.03 928.3) scale(0.00952 -0.00952)" d="M763 0L583 0L583 1147Q518 1085 412 1023Q306 961 222 930L222 1104Q373 1175 486 1276Q599 1377 646 1472L763 1472Z"/>
<path transform="translate(644.63 939.8) scale(0.01392 -0.01392)" d="M763 0L583 0L583 1147Q518 1085 412 1023Q306 961 222 930L222 1104Q373 1175 486 1276Q599 1377 646 1472L763 1472Z"/><text x="660.48" y="939.8" font-size="28.5">0</text><text x="676.33" y="928.3" font-size="19.5">2</text>
<text x="386" y="987" text-anchor="middle" font-size="40"><tspan font-style="italic">T</tspan>(K)</text>
<text transform="translate(29.5 210.5) rotate(-90)" text-anchor="middle" font-size="41"><tspan font-style="italic">c</tspan><tspan font-style="italic" font-size="26" dy="10.5">P</tspan><tspan dy="-10.5">/</tspan><tspan font-style="italic">R</tspan></text>
<text transform="translate(29.5 648.5) rotate(-90)" text-anchor="middle" font-size="41"><tspan font-style="italic">c</tspan><tspan font-style="italic" font-size="26" dy="10.5">P</tspan><tspan dy="-10.5">/</tspan><tspan font-style="italic">R</tspan></text>
<text x="127" y="56.5" font-size="35">a)</text>
<text x="128" y="505.6" font-size="35">b)</text>
<text x="464.8" y="312.3" font-size="39.3">Zero field</text>
<text x="518.5" y="807.6" font-size="41">3 T</text>
<circle cx="201.5" cy="46" r="7.35" fill="#ff0000"/>
<path fill="#00ff00" d="M201.4 71.4L210.3 86.2L192.5 86.2Z"/>
<circle cx="390" cy="46" r="6.9" fill="#fff" stroke="#0000ff" stroke-width="1.25"/>
<path fill="none" stroke="#606060" stroke-width="1.1" d="M384.3 81.4H399.7M392 73.7V89.1"/><path fill="none" stroke="#000" stroke-width="1.15" d="M384.3 73.7L399.7 89.1M384.3 89.1L399.7 73.7"/>
<path d="M167.9 122H182M194.2 122H207.5M219.2 122H232.5" stroke="#000" stroke-width="3"/>
<path d="M167.9 157H235" stroke="#000" stroke-width="3"/>
<text font-size="28"><tspan x="241" y="55">[GdLu]</tspan><tspan x="241" y="90.4">[Gd<tspan font-size="20" dy="7">2</tspan><tspan dy="-7">]</tspan></tspan><tspan x="430" y="55.4">[LaGd]</tspan><tspan x="432" y="90.4">[YLa]</tspan><tspan x="241" y="131.3">[GdLu]+[LaGd]</tspan><tspan x="241" y="166.5"><tspan font-style="italic">J</tspan> = -0.42 GHz</tspan></text>
</svg></body></html>
